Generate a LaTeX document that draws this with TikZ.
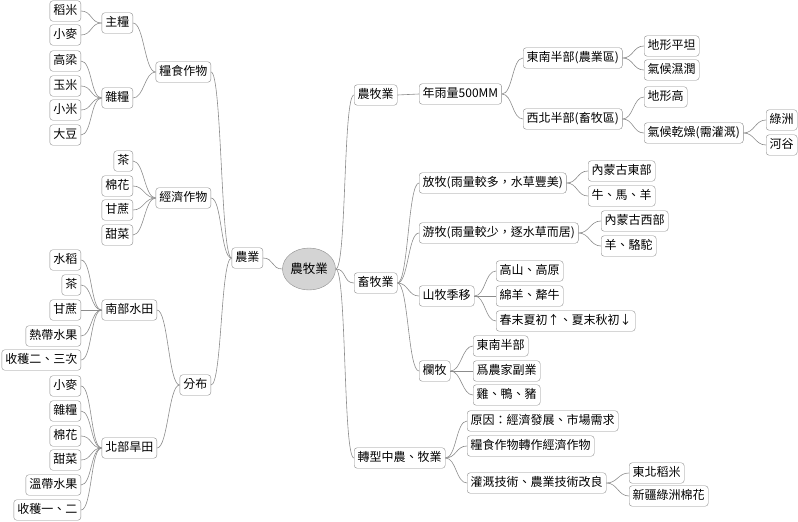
\documentclass[tikz,border=0pt]{standalone}
\usepackage{fontspec}
\newfontfamily\cjk{Noto Sans CJK TC}
\usetikzlibrary{shapes.geometric}
\definecolor{linegray}{HTML}{8C8C8C}
\definecolor{hubgray}{HTML}{D4D4D4}
\tikzset{
  box/.style={draw=linegray, fill=white, rounded corners=3pt, inner xsep=3.5pt,
    inner ysep=4.5pt, text height=9.5pt, text depth=2pt,
    font=\cjk\fontsize{12}{14}\selectfont},
  hub/.style={ellipse, draw=linegray, fill=hubgray, minimum width=48pt,
    minimum height=42pt, inner sep=0pt, font=\cjk\fontsize{12.5}{14}\selectfont},
  link/.style={draw=linegray, line width=0.6pt}
}
\begin{document}
\begin{tikzpicture}[x=1pt, y=-1pt]
      \useasboundingbox (0, 0) rectangle (798, 522);

      \node[hub] (hub) at (309, 269) {農牧業};

      % left side
      \node[box, anchor=east] (agri) at (263, 258) {農業};
      \node[box, anchor=east] (grain) at (211, 72) {糧食作物};
      \node[box, anchor=east] (staple) at (133, 23) {主糧};
      \node[box, anchor=east] (rice) at (81, 11) {稻米};
      \node[box, anchor=east] (wheat) at (81, 35) {小麥};
      \node[box, anchor=east] (coarse) at (133, 98) {雜糧};
      \node[box, anchor=east] (sorghum) at (81, 61) {高梁};
      \node[box, anchor=east] (corn) at (81, 86) {玉米};
      \node[box, anchor=east] (millet) at (81, 110) {小米};
      \node[box, anchor=east] (soy) at (81, 135) {大豆};
      \node[box, anchor=east] (cash) at (211, 198) {經濟作物};
      \node[box, anchor=east] (tea) at (133, 161) {茶};
      \node[box, anchor=east] (cotton) at (133, 186) {棉花};
      \node[box, anchor=east] (cane) at (133, 210) {甘蔗};
      \node[box, anchor=east] (beet) at (133, 235) {甜菜};
      \node[box, anchor=east] (dist) at (211, 385) {分布};
      \node[box, anchor=east] (south) at (157, 310) {南部水田};
      \node[box, anchor=east] (paddy) at (81, 260) {水稻};
      \node[box, anchor=east] (stea) at (81, 285) {茶};
      \node[box, anchor=east] (scane) at (81, 310) {甘蔗};
      \node[box, anchor=east] (sfruit) at (81, 336) {熱帶水果};
      \node[box, anchor=east] (sharv) at (81, 360) {收穫二、三次};
      \node[box, anchor=east] (north) at (157, 448) {北部旱田};
      \node[box, anchor=east] (nwheat) at (81, 386) {小麥};
      \node[box, anchor=east] (ncoarse) at (81, 411) {雜糧};
      \node[box, anchor=east] (ncotton) at (81, 436) {棉花};
      \node[box, anchor=east] (nbeet) at (81, 460) {甜菜};
      \node[box, anchor=east] (nfruit) at (81, 485) {溫帶水果};
      \node[box, anchor=east] (nharv) at (81, 510) {收穫一、二};

      % right side
      \node[box, anchor=west] (mixed) at (354, 95) {農牧業};
      \node[box, anchor=west] (rain) at (419, 94) {年雨量500MM};
      \node[box, anchor=west] (se) at (523, 58) {東南半部(農業區)};
      \node[box, anchor=west] (nw) at (523, 119) {西北半部(畜牧區)};
      \node[box, anchor=west] (flat) at (644, 46) {地形平坦};
      \node[box, anchor=west] (humid) at (644, 70) {氣候濕潤};
      \node[box, anchor=west] (high) at (644, 97) {地形高};
      \node[box, anchor=west] (dry) at (644, 133) {氣候乾燥(需灌溉)};
      \node[box, anchor=west] (oasis) at (766, 120) {綠洲};
      \node[box, anchor=west] (valley) at (766, 145) {河谷};
      \node[box, anchor=west] (herd) at (354, 283) {畜牧業};
      \node[box, anchor=west] (graze) at (419, 183) {放牧(雨量較多，水草豐美)};
      \node[box, anchor=west] (imeast) at (588, 171) {內蒙古東部};
      \node[box, anchor=west] (cattle) at (588, 196) {牛、馬、羊};
      \node[box, anchor=west] (nomad) at (419, 233) {游牧(雨量較少，逐水草而居)};
      \node[box, anchor=west] (imwest) at (601, 221) {內蒙古西部};
      \node[box, anchor=west] (camel) at (601, 246) {羊、駱駝};
      \node[box, anchor=west] (transh) at (419, 296) {山牧季移};
      \node[box, anchor=west] (mount) at (496, 271) {高山、高原};
      \node[box, anchor=west] (yak) at (496, 296) {綿羊、犛牛};
      \node[box, anchor=west] (season) at (496, 321) {春末夏初↑、夏末秋初↓};
      \node[box, anchor=west] (pen) at (419, 371) {欄牧};
      \node[box, anchor=west] (pse) at (473, 346) {東南半部};
      \node[box, anchor=west] (side) at (473, 371) {爲農家副業};
      \node[box, anchor=west] (fowl) at (473, 395) {雞、鴨、豬};
      \node[box, anchor=west] (shift) at (354, 458) {轉型中農、牧業};
      \node[box, anchor=west] (cause) at (467, 421) {原因：經濟發展、市場需求};
      \node[box, anchor=west] (convert) at (467, 446) {糧食作物轉作經濟作物};
      \node[box, anchor=west] (tech) at (467, 483) {灌溉技術、農業技術改良};
      \node[box, anchor=west] (nerice) at (629, 473) {東北稻米};
      \node[box, anchor=west] (xjcot) at (629, 496) {新疆綠洲棉花};

      % connectors
      \begin{scope}[on background layer/.try]
      \foreach \p/\c in {hub/agri, agri/grain, agri/cash, agri/dist,
          grain/staple, grain/coarse, staple/rice, staple/wheat,
          coarse/sorghum, coarse/corn, coarse/millet, coarse/soy,
          cash/tea, cash/cotton, cash/cane, cash/beet,
          dist/south, dist/north, south/paddy, south/stea, south/scane,
          south/sfruit, south/sharv, north/nwheat, north/ncoarse,
          north/ncotton, north/nbeet, north/nfruit, north/nharv}
        \draw[link] (\p.west) to[out=180, in=0, distance=11pt] (\c.east);
      \foreach \p/\c in {hub/mixed, hub/herd, hub/shift,
          mixed/rain, rain/se, rain/nw, se/flat, se/humid, nw/high, nw/dry,
          dry/oasis, dry/valley, herd/graze, herd/nomad, herd/transh, herd/pen,
          graze/imeast, graze/cattle, nomad/imwest, nomad/camel,
          transh/mount, transh/yak, transh/season, pen/pse, pen/side, pen/fowl,
          shift/cause, shift/convert, shift/tech, tech/nerice, tech/xjcot}
        \draw[link] (\p.east) to[out=0, in=180, distance=11pt] (\c.west);
      \end{scope}
    \end{tikzpicture}
\end{document}
